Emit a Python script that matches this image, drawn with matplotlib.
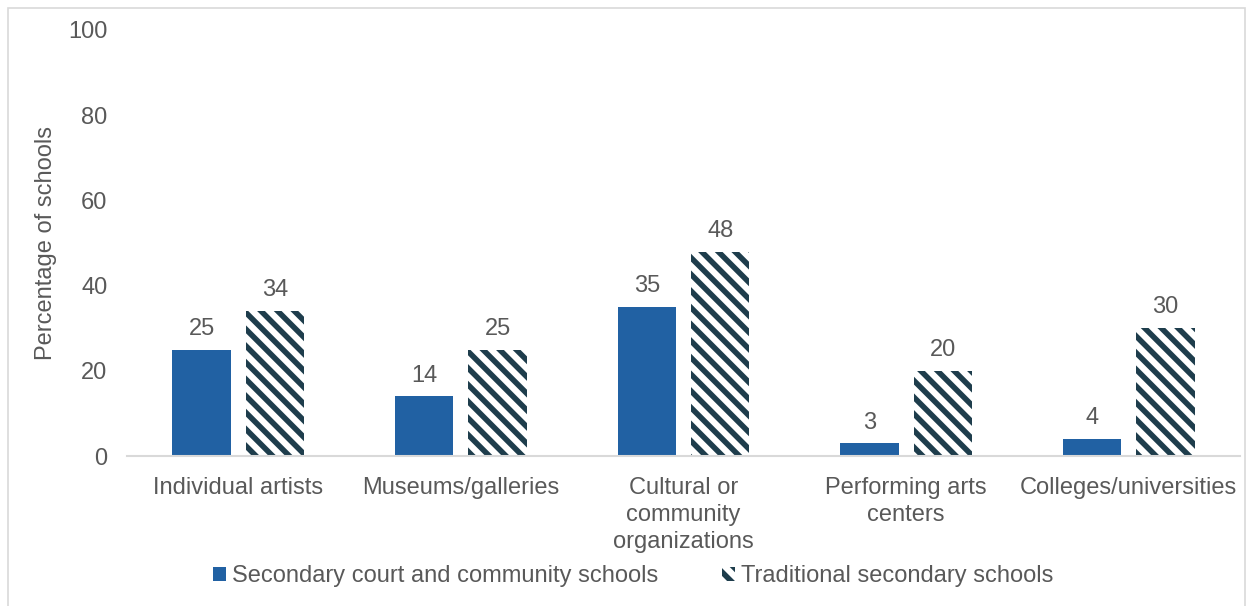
import numpy as np
import matplotlib.pyplot as plt
from matplotlib.patches import Rectangle

plt.rcParams['font.family'] = ['Liberation Sans', 'DejaVu Sans']
plt.rcParams['hatch.linewidth'] = 4.0
plt.rcParams['hatch.color'] = '#1e3d4c'

categories = ['Individual artists', 'Museums/galleries', 'Cultural or\ncommunity\norganizations',
              'Performing arts\ncenters', 'Colleges/universities']
court_community = [25, 14, 35, 3, 4]
traditional = [34, 25, 48, 20, 30]
series_names = ['Secondary court and community schools', 'Traditional secondary schools']

blue = '#2161a3'
grey_text = '#595959'
fs = 17

fig = plt.figure(figsize=(12.46, 6.06), dpi=100)
ax = fig.add_axes([0.1019, 0.2475, 0.8933, 0.703])

x = np.arange(len(categories))
w = 0.262
off = 0.165
b1 = ax.bar(x - off, court_community, w, color=blue, label=series_names[0])
b2 = ax.bar(x + off, traditional, w, color='white', edgecolor='#1e3d4c', linewidth=0,
            hatch='\\\\', label=series_names[1])

for bars, vals in ((b1, court_community), (b2, traditional)):
    for bar, v in zip(bars, vals):
        ax.annotate(str(v), (bar.get_x() + bar.get_width() / 2, v), xytext=(0, 7),
                    textcoords='offset points', ha='center', va='bottom',
                    fontsize=fs, color=grey_text)

ax.set_xlim(-0.5, len(categories) - 0.5)
ax.set_ylim(0, 100)
ax.set_yticks(range(0, 101, 20))
ax.set_xticks(x)
ax.set_xticklabels(categories, linespacing=1.3)
ax.tick_params(axis='both', length=0, labelsize=fs, labelcolor=grey_text)
ax.tick_params(axis='y', pad=14)
ax.tick_params(axis='x', pad=15)
ax.set_ylabel('Percentage of schools', fontsize=fs, color=grey_text, labelpad=8)

for s in ('top', 'right', 'left'):
    ax.spines[s].set_visible(False)
ax.spines['bottom'].set_color('#d9d9d9')
ax.spines['bottom'].set_linewidth(1.5)

leg = ax.legend(loc='center', bbox_to_anchor=(0.508, 0.0495), bbox_transform=fig.transFigure,
                ncol=2, frameon=False, fontsize=fs, handlelength=0.55, handleheight=0.55,
                handletextpad=0.25, columnspacing=2.7, labelcolor=grey_text)

# chart area outline
fig.patches.append(Rectangle((8 / 1246, -0.01), 1237 / 1246, 1 - 8 / 606 + 0.01,
                             transform=fig.transFigure, fill=False,
                             edgecolor='#d9d9d9', linewidth=1.2))

fig.savefig('out.png', dpi=100)
